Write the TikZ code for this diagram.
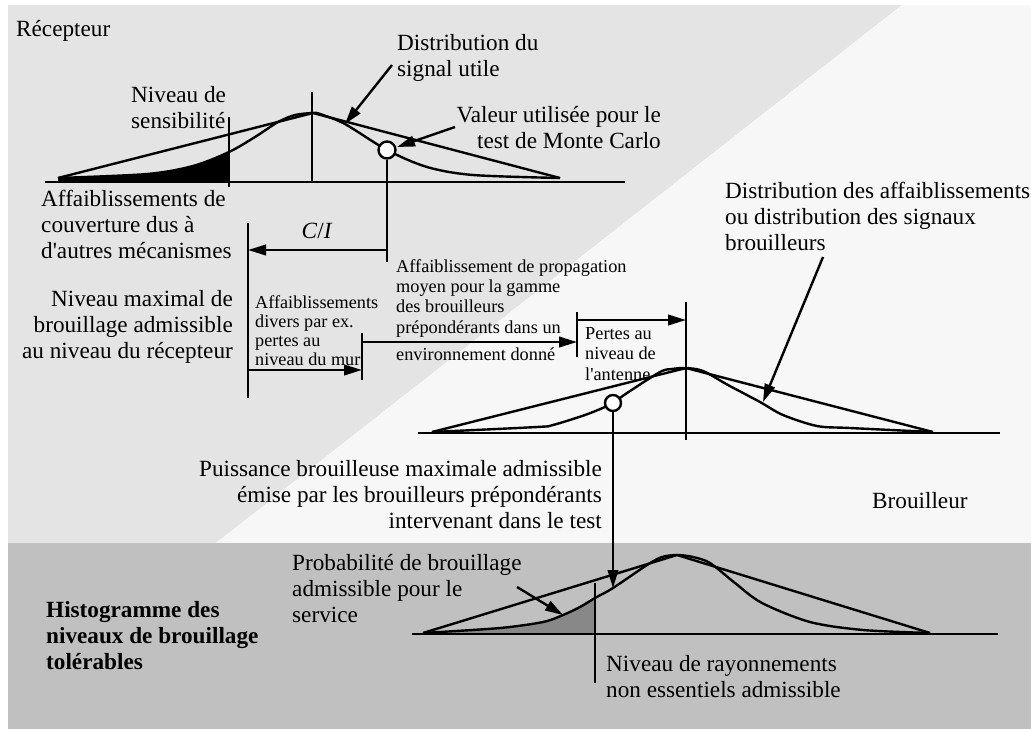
\documentclass[tikz,border=0pt]{standalone}
\usepackage{fontspec}
\setmainfont{Liberation Serif}
\usetikzlibrary{arrows.meta}

\definecolor{bgLight}{RGB}{228,228,228}
\definecolor{bgPale}{RGB}{247,247,247}
\definecolor{bgDark}{RGB}{192,192,192}
\definecolor{tailGray}{RGB}{136,136,136}

\begin{document}
\begin{tikzpicture}[x=1pt,y=-1pt,
  big/.style={font=\fontsize{23.2}{26}\selectfont, inner sep=0pt},
  mid/.style={font=\fontsize{18.3}{20.3}\selectfont, inner sep=0pt},
  small/.style={font=\fontsize{18.2}{19}\selectfont, inner sep=0pt},
  axis/.style={line width=2.6pt},
  curve/.style={line width=2.4pt, line join=round},
  pointer/.style={line width=2.4pt, -{Triangle[length=18pt,width=10.5pt]}},
  marker/.style={circle, draw, line width=2.4pt, fill=white, minimum size=17pt, inner sep=0pt},
]
\useasboundingbox (0,0) rectangle (1031,729);

% background zones
\fill[white] (0,0) rectangle (1031,729);
\fill[bgLight] (8,5) -- (902,5) -- (216,543) -- (8,543) -- cycle;
\fill[bgPale] (902,5) -- (1031,5) -- (1031,543) -- (216,543) -- cycle;
\fill[bgDark] (8,543) rectangle (1031,729);

% ---------- receiver distribution ----------
\coordinate (rxL) at (45,182);
\coordinate (rxR) at (625,182);
\coordinate (rxPeakT) at (312,92);
\coordinate (rxPeakB) at (312,182);
\coordinate (sensT) at (229,117);
\coordinate (sensB) at (229,187);

\fill[black] plot[smooth, tension=0.5] coordinates {(58,178) (147,174) (193,166) (229,152)}
  -- (229,182) -- (58,182) -- cycle;
\draw[curve] plot[smooth, tension=0.5] coordinates {(58,178) (147,174) (193,166) (229,152) (255,137)
  (278,122) (295,115) (313,113) (320,114) (345,124) (387,150) (427,167) (473,175) (560,178)};
\draw[curve] (58,178) -- (313,113) -- (560,178);
\draw[axis] (rxL) -- (rxR);
\draw[axis] (rxPeakT) -- (rxPeakB);
\draw[axis] (sensT) -- (sensB);

\node[marker] (mcPt) at (387,150) {};
\coordinate (mcDrop) at (387,262);
\coordinate (ciR) at (387,250);
\coordinate (ciL) at (248,250);
\draw[axis] (mcPt.south) -- (mcDrop);
\draw[pointer] (ciR) -- (ciL);

% level chain
\coordinate (lvT) at (248,223);
\coordinate (lvB) at (248,398);
\coordinate (wallS) at (248,370);
\coordinate (wallE) at (362,370);
\coordinate (wallT) at (362,333);
\coordinate (wallB) at (362,380);
\coordinate (propS) at (362,342);
\coordinate (propE) at (577,342);
\coordinate (antT) at (577,312);
\coordinate (antB) at (577,357);
\coordinate (antS) at (577,320);
\coordinate (antE) at (686,320);
\coordinate (ifPeakT) at (686,302);
\coordinate (ifPeakB) at (686,440);
\draw[axis] (lvT) -- (lvB);
\draw[pointer] (wallS) -- (wallE);
\draw[axis] (wallT) -- (wallB);
\draw[pointer] (propS) -- (propE);
\draw[axis] (antT) -- (antB);
\draw[pointer] (antS) -- (antE);
\draw[axis] (ifPeakT) -- (ifPeakB);

% ---------- interferer distribution ----------
\coordinate (ifL) at (418,433);
\coordinate (ifR) at (1000,433);
\draw[curve] plot[smooth, tension=0.5] coordinates {(432,432) (537,427) (553,425) (585,415) (605,407)
  (613,403) (627,393) (660,372) (672,369) (686,368) (703,371) (728,385) (760,402) (783,415)
  (817,426) (850,428) (933,432)};
\draw[curve] (432,432) -- (686,368) -- (933,432);
\draw[axis] (ifL) -- (ifR);
\node[marker, minimum size=16pt] (ifPt) at (613,403) {};

% ---------- tolerable levels histogram ----------
\coordinate (hL) at (412,634);
\coordinate (hR) at (998,634);
\coordinate (spT) at (595,583);
\coordinate (spB) at (595,683);
\fill[tailGray] plot[smooth, tension=0.5] coordinates {(423,633) (500,628) (543,622) (563,615) (580,607) (595,598)}
  -- (595,634) -- (423,634) -- cycle;
\draw[curve] plot[smooth, tension=0.5] coordinates {(423,633) (500,628) (543,622) (563,615) (580,607)
  (595,598) (613,588) (647,565) (662,557) (677,555) (693,557) (710,563) (735,583) (762,603)
  (810,622) (863,630) (930,633)};
\draw[curve] (423,633) -- (677,555) -- (930,633);
\draw[axis] (hL) -- (hR);
\draw[axis] (spT) -- (spB);
\coordinate (hHit) at (613,588);
\draw[pointer] (ifPt.south) -- (hHit);

% ---------- labels (multi-line nodes are anchored on their last baseline) ----------
\node[big, anchor=base west] (lblRx) at (16,36) {Récepteur};
\node[big, anchor=base west, align=left] (lblSig) at (397,76) {Distribution du\\signal utile};
\node[big, anchor=base west, align=left] (lblSens) at (131,128) {Niveau de\\sensibilité};
\node[big, anchor=base east, align=right] (lblMc) at (661,148) {Valeur utilisée pour le\\test de Monte Carlo};
\node[big, anchor=base west, align=left] (lblCov) at (41,258) {Affaiblissements de\\couverture dus à\\d\textquotesingle autres mécanismes};
\node[big, anchor=base] (lblCI) at (317,238) {\textit{C}/\textit{I}};
\node[big, anchor=base east, align=right] (lblMax) at (233,358) {Niveau maximal de\\brouillage admissible\\au niveau du récepteur};
\node[small, anchor=base west, align=left] (lblWall) at (255,365) {Affaiblissements\\divers par ex.\\pertes au\\niveau du mur};
\node[mid, anchor=base west, align=left] (lblProp) at (396,333) {Affaiblissement de propagation\\moyen pour la gamme\\des brouilleurs\\prépondérants dans un};
\node[mid, anchor=base west] (lblEnv) at (396,360) {environnement donné};
\node[mid, anchor=base west, align=left] (lblAnt) at (585,380) {Pertes au\\niveau de\\l\textquotesingle antenne};
\node[big, anchor=base west, align=left] (lblDist) at (725,250) {Distribution des affaiblissements\\ou distribution des signaux\\brouilleurs};
\node[big, anchor=base east, align=right] (lblPow) at (602,528) {Puissance brouilleuse maximale admissible\\émise par les brouilleurs prépondérants\\intervenant dans le test};
\node[big, anchor=base west] (lblIf) at (872,508) {Brouilleur};
\node[big, anchor=base west, align=left] (lblProb) at (292,622) {Probabilité de brouillage\\admissible pour le\\service};
\node[big, anchor=base west, align=left, font=\fontsize{23.2}{26}\selectfont\bfseries] (lblHist) at (46,669) {Histogramme des\\niveaux de brouillage\\tolérables};
\node[big, anchor=base west, align=left] (lblSpur) at (606,697) {Niveau de rayonnements\\non essentiels admissible};

% label pointers
\coordinate (sigS) at (392,65);
\coordinate (sigE) at (345,124);
\coordinate (mcS) at (455,127);
\coordinate (mcE) at (397,147);
\coordinate (distS) at (823,257);
\coordinate (distE) at (763,402);
\coordinate (probS) at (517,587);
\coordinate (probE) at (563,615);
\draw[pointer] (sigS) -- (sigE);
\draw[pointer] (mcS) -- (mcE);
\draw[pointer] (distS) -- (distE);
\draw[pointer] (probS) -- (probE);
\end{tikzpicture}
\end{document}
